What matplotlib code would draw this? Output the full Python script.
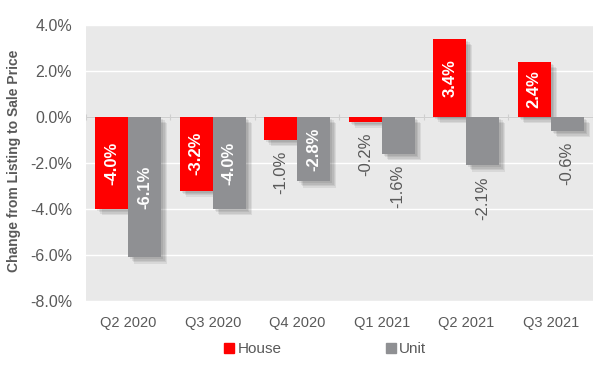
import numpy as np
import matplotlib
matplotlib.use('Agg')
import matplotlib.pyplot as plt
import matplotlib.patheffects as pe
from matplotlib.lines import Line2D

plt.rcParams['font.family'] = ['Liberation Sans', 'DejaVu Sans']

# data
quarters = ['Q2 2020', 'Q3 2020', 'Q4 2020', 'Q1 2021', 'Q2 2021', 'Q3 2021']
house = [-4.0, -3.2, -1.0, -0.2, 3.4, 2.4]
unit = [-6.1, -4.0, -2.8, -1.6, -2.1, -0.6]

red = '#ff0000'
grey = '#8f9093'
txt = '#595959'

fig = plt.figure(figsize=(6, 3.66), dpi=100)
ax = fig.add_axes([0.1433, 0.1776, 0.845, 0.7541])
ax.set_facecolor('#e9e9e9')

x = np.arange(len(quarters))
w = 0.39

# soft-ish drop shadow
shadow = [pe.SimplePatchShadow(offset=(o, -o), shadow_rgbFace='k', alpha=0.07)
          for o in (4.5, 3.5, 2.5, 1.5)] + [pe.Normal()]

b1 = ax.bar(x - w/2, house, w, color=red, zorder=3)
b2 = ax.bar(x + w/2, unit, w, color=grey, zorder=3)
for b in list(b1) + list(b2):
    b.set_path_effects(shadow)

# data labels: inside (white bold) for long bars, below bar end otherwise
for xs, vals in [(x - w/2, house), (x + w/2, unit)]:
    for xi, v in zip(xs, vals):
        s = '%.1f%%' % v
        if abs(v) >= 2.4:
            ax.text(xi, v/2, s, rotation=90, ha='center', va='center',
                    color='white', fontsize=12, fontweight='bold', zorder=5)
        else:
            ax.annotate(s, (xi, v), xytext=(0, -8), textcoords='offset points',
                        rotation=90, ha='center', va='top', color=txt,
                        fontsize=12, zorder=5)

ax.set_xlim(-0.5, len(quarters) - 0.5)
ax.set_ylim(-8, 4)
ax.set_yticks(np.arange(-8, 4.1, 2))
ax.set_yticklabels(['%.1f%%' % t for t in np.arange(-8, 4.1, 2)])
ax.set_xticks(x)
ax.set_xticklabels(quarters)
ax.tick_params(axis='y', length=0, labelsize=11.5, labelcolor=txt, pad=10)
ax.tick_params(axis='x', length=0, labelsize=10.5, labelcolor=txt, pad=11)
ax.grid(axis='y', color='white', linewidth=1, zorder=0)
ax.set_axisbelow(True)
for sp in ax.spines.values():
    sp.set_visible(False)

# zero axis line with small category-boundary ticks
ax.axhline(0, color='#cfcfcf', linewidth=0.8, zorder=2)
ax.vlines(np.arange(len(quarters) + 1) - 0.5, -0.12, 0.12, color='#cfcfcf',
          linewidth=0.8, zorder=2)

fig.text(0.024, 0.56, 'Change from Listing to Sale Price', rotation=90,
         ha='center', va='center', fontsize=10, fontweight='bold', color=txt)

handles = [Line2D([], [], marker='s', linestyle='', color=red, markersize=7),
           Line2D([], [], marker='s', linestyle='', color=grey, markersize=7)]
fig.legend(handles, ['House', 'Unit'], loc='center', bbox_to_anchor=(0.542, 0.046),
           ncol=2, frameon=False, fontsize=11, labelcolor=txt,
           handlelength=0.7, handletextpad=0.2, columnspacing=6.8)

fig.savefig('out.png', dpi=100)
